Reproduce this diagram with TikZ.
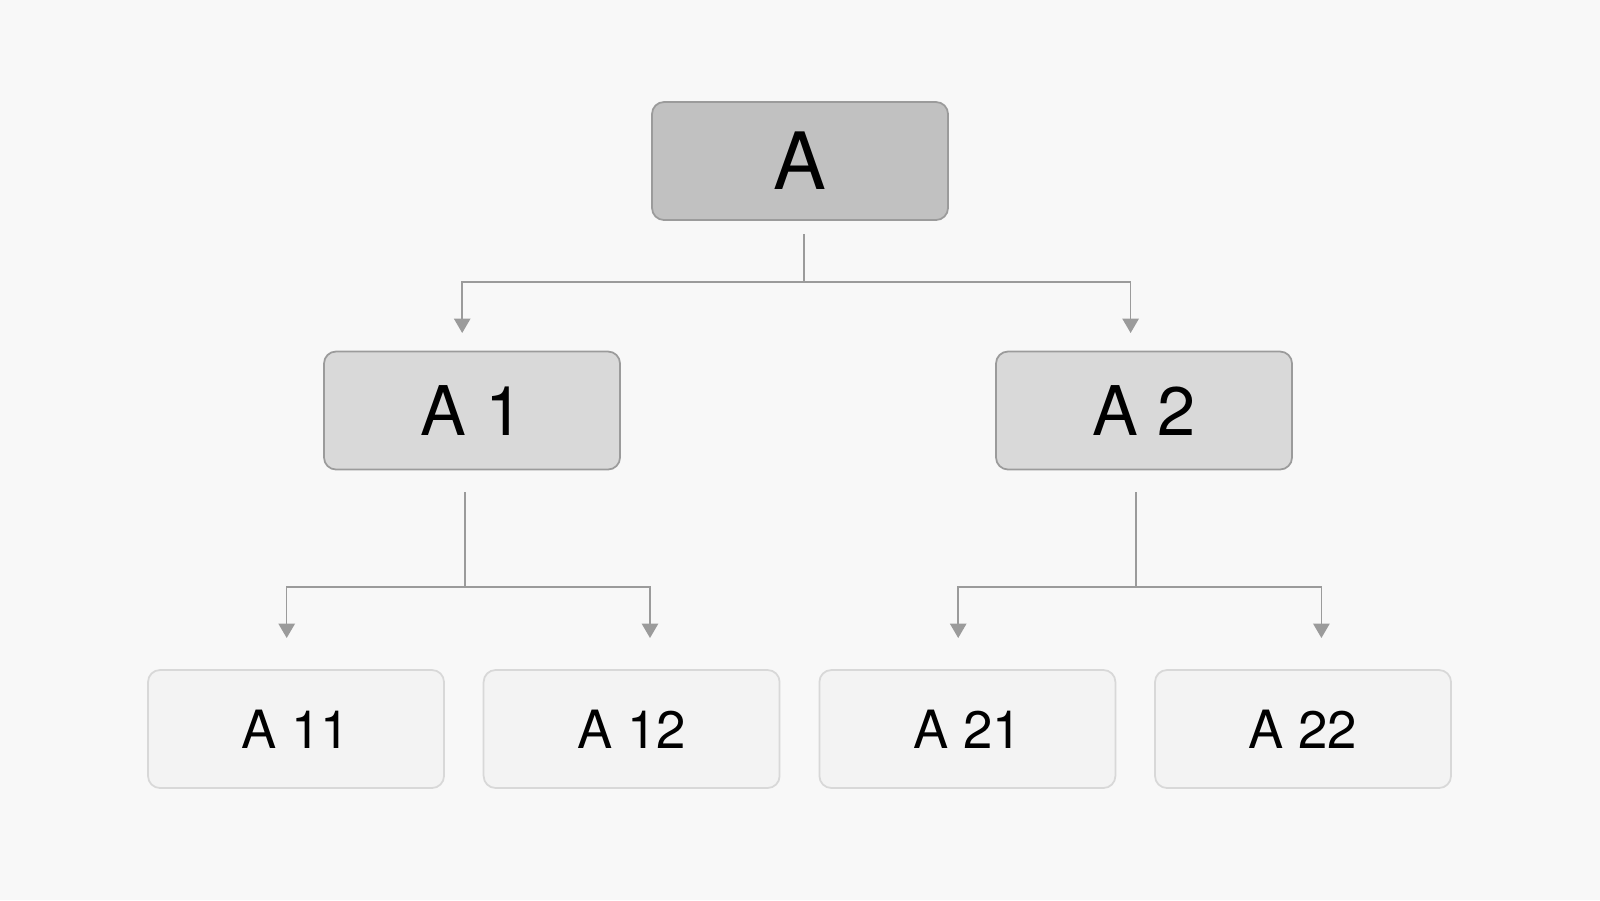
\documentclass[tikz,border=0pt]{standalone}
\usepackage{fontspec}
\setmainfont{TeX Gyre Heros}
\usetikzlibrary{arrows.meta}
\definecolor{bgcol}{HTML}{F8F8F8}
\definecolor{rootfill}{HTML}{C1C1C1}
\definecolor{midfill}{HTML}{D9D9D9}
\definecolor{leaffill}{HTML}{F3F3F3}
\definecolor{darkedge}{HTML}{9B9B9B}
\definecolor{lightedge}{HTML}{D8D8D8}

\begin{document}
\begin{tikzpicture}
	\tikzset{box/.style={draw,rounded corners=0.12cm,line width=0.5pt,minimum width=2.96cm,minimum height=1.18cm,inner sep=0pt},
		rootbox/.style={box,draw=darkedge,fill=rootfill,font=\fontsize{22.5}{26}\selectfont},
		midbox/.style={box,draw=darkedge,fill=midfill,font=\fontsize{19.5}{23}\selectfont},
		leafbox/.style={box,draw=lightedge,fill=leaffill,font=\fontsize{15}{18}\selectfont},
		link/.style={draw=darkedge,line width=0.45pt,-{Triangle[length=0.145cm,width=0.165cm]}}
	}
    \fill [bgcol] (0,0) rectangle (16,-9);
    \useasboundingbox (0,0) rectangle (16,-9);

    \node [rootbox] (a) at (8.00,-1.61) {A};
    \node [midbox] (a1) at (4.72,-4.105) {A 1};
    \node [midbox] (a2) at (11.44,-4.105) {A 2};
    \node [leafbox] (a11) at (2.96,-7.29) {A 11};
    \node [leafbox] (a12) at (6.316,-7.29) {A 12};
    \node [leafbox] (a21) at (9.674,-7.29) {A 21};
    \node [leafbox] (a22) at (13.03,-7.29) {A 22};

    % stems and arrow ends
    \coordinate (aout) at (8.037,-2.34);
    \coordinate (a1in) at (4.622,-3.33);
    \coordinate (a2in) at (11.306,-3.33);
    \coordinate (a1out) at (4.65,-4.92);
    \coordinate (a11in) at (2.867,-6.38);
    \coordinate (a12in) at (6.50,-6.38);
    \coordinate (a2out) at (11.357,-4.92);
    \coordinate (a21in) at (9.582,-6.38);
    \coordinate (a22in) at (13.214,-6.38);

    \draw [link] (aout) -- ++(0,-0.48) -| (a1in);
    \draw [link] (aout) -- ++(0,-0.48) -| (a2in);
    \draw [link] (a1out) -- ++(0,-0.95) -| (a11in);
    \draw [link] (a1out) -- ++(0,-0.95) -| (a12in);
    \draw [link] (a2out) -- ++(0,-0.95) -| (a21in);
    \draw [link] (a2out) -- ++(0,-0.95) -| (a22in);
\end{tikzpicture}
\end{document}
